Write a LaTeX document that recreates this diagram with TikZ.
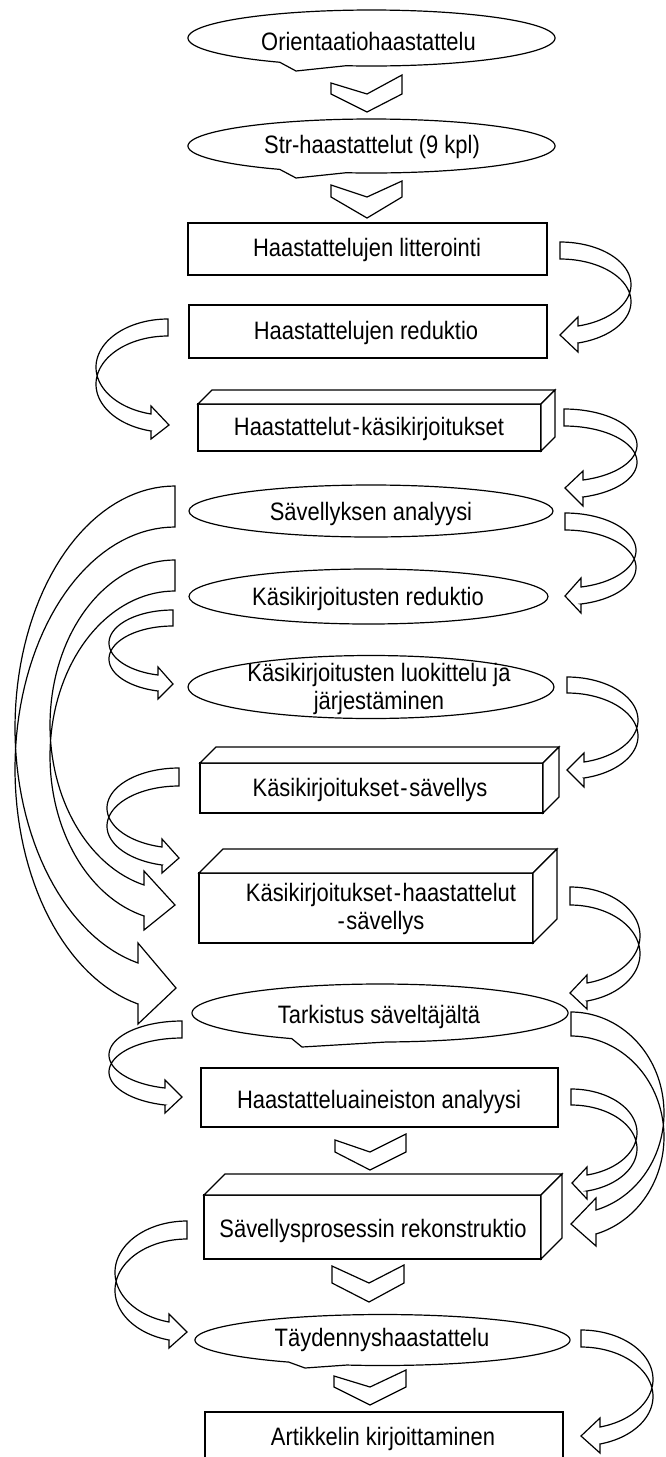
\documentclass[tikz,border=0pt]{standalone}
\usepackage{fontspec}
\setmainfont{Liberation Sans}
\newfontfamily\lblfont[FakeStretch=0.87]{Liberation Sans}
% curved block arrow: xt yt t xe xb yb e xtip ytip
\newcommand\curvarr[9]{%
  \pgfmathsetmacro\CAa{abs(#4-#1)}%
  \pgfmathsetmacro\CAs{sqrt(1-((#5-#1)/\CAa)^2)}%
  \pgfmathsetmacro\CAb{(#6-#2)/(1+\CAs)}%
  \pgfmathsetmacro\CAcy{#2+\CAb}%
  \pgfmathsetmacro\CAend{ifthenelse(#4>#1, acos((#5-#1)/\CAa), acos((#5-#1)/\CAa)-360)}%
  \draw[arr] plot[domain=-90:\CAend, samples=70] ({#1+\CAa*cos(\x)},{\CAcy+\CAb*sin(\x)})
     -- (#5,{#6-#7}) -- (#8,#9) -- (#5,{#6+#3+#7}) -- (#5,{#6+#3})
     -- plot[domain=\CAend:-90, samples=70] ({#1+\CAa*cos(\x)},{\CAcy+#3+\CAb*sin(\x)}) -- cycle;}
% chevron: xl xm xr ytl ytr yn ytip
\newcommand\chev[7]{\draw[shp] (#1,#4) -- (#2,#6) -- (#3,#5) -- (#3,#6) -- (#2,#7) -- (#1,#6) -- cycle;}
% cube: x1 y1 x2 y2 d
\newcommand\cubebox[5]{%
  \draw[shp] (#1,#2) rectangle (#3,#4);
  \draw[shp] (#1,#2) -- ({#1+#5},{#2-#5}) -- ({#3+#5},{#2-#5}) -- (#3,#2) -- cycle;
  \draw[shp] (#3,#2) -- ({#3+#5},{#2-#5}) -- ({#3+#5},{#4-#5}) -- (#3,#4) -- cycle;}
% wedge ellipse callout: cx cy rx ry aR aL tipx tipy
\newcommand\wcallout[8]{%
  \draw[shp] plot[domain=#5:#6-360, samples=140] ({#1+#3*cos(\x)},{#2+#4*sin(\x)}) -- (#7,#8) -- cycle;}
\begin{document}
\begin{tikzpicture}[x=0.5pt,y=-0.5pt,
  shp/.style={draw=black, fill=white, line width=0.6pt, line join=miter},
  arr/.style={draw=black, line width=0.6pt, line join=miter},
  lbl/.style={font=\lblfont\fontsize{12.6}{13.8}\selectfont, inner sep=0pt, anchor=base},
  lbltwo/.style={font=\lblfont\fontsize{12.6}{13.8}\selectfont, inner sep=0pt, align=center}]
\useasboundingbox (0,0) rectangle (665,1457);

% callouts
\wcallout{371.5}{38}{183.5}{28}{98}{120}{296}{71}
\wcallout{371.5}{146}{183.5}{27}{98}{120}{296}{178}
\wcallout{380}{1013}{188}{29}{88}{118}{302}{1047}
\wcallout{382.5}{1340}{187.5}{25.5}{101}{120}{305}{1368}

% chevrons
\chev{331}{367}{402}{83}{75}{94}{112}
\chev{331}{367}{402}{185}{181}{197}{218}
\chev{335}{370}{406}{1140}{1134}{1152}{1170}
\chev{332}{369}{404}{1266}{1265}{1283}{1302}
\chev{334}{370}{406}{1376}{1370}{1387}{1405}

% rectangles
\draw[shp] (188,223) rectangle (547,275);
\draw[shp] (189,305) rectangle (547,358);
\draw[shp] (201,1068) rectangle (558,1127);
\draw[shp] (205,1412) rectangle (563,1462);

% cubes
\cubebox{198}{404}{541}{451}{14}
\cubebox{200}{763}{543}{813}{16}
\cubebox{199}{873}{533}{943}{24}
\cubebox{204}{1195}{541}{1259}{21}

% ellipses
\draw[shp] (371,511) ellipse [x radius=182, y radius=26];
\draw[shp] (368.5,596.5) ellipse [x radius=179.5, y radius=27.5];
\draw[shp] (371,687) ellipse [x radius=183, y radius=31.5];

% right curved arrows
\curvarr{560}{242}{17}{631}{578}{326}{9}{560}{335}
\curvarr{564}{409}{17}{637}{583}{480}{9}{565}{488}
\curvarr{565}{513}{17}{636}{581}{587}{9}{565}{596}
\curvarr{567}{677}{16}{638}{584}{762}{9}{567}{770}
\curvarr{570}{887}{18}{640}{587}{983}{8}{570}{993}
\curvarr{571}{1012}{24}{664}{596}{1210}{12}{571}{1224}
\curvarr{571}{1089}{16}{637}{587}{1175}{8}{572}{1183}
\curvarr{581}{1330}{17}{653}{600}{1427}{9}{581}{1436}
% left curved arrows
\curvarr{168}{319}{17}{96}{151}{414}{8}{169}{425}
\curvarr{173}{610}{16}{109}{158}{675}{8}{173}{684}
\curvarr{179}{768}{18}{107}{162}{847}{8}{179}{858}
\curvarr{175}{486}{41}{15}{138}{963}{20}{176}{988}
\curvarr{175}{560}{31}{50}{144}{885}{14}{175}{905}
\curvarr{182}{1021}{17}{109}{165}{1088}{8}{182}{1097}
\curvarr{187}{1221}{18}{115}{169}{1322}{8}{187}{1332}

% labels
\node[lbl] (orient) at (368.5,50) {Orientaatiohaastattelu};
\node[lbl] (strh) at (372,153) {Str-haastattelut (9 kpl)};
\node[lbl] (litt) at (367,256) {Haastattelujen litterointi};
\node[lbl] (hred) at (366,339) {Haastattelujen reduktio};
\node[lbl] (hkas) at (369,435) {Haastattelut\kern0.8pt-\kern0.8pt käsikirjoitukset};
\node[lbl] (sana) at (371,520) {Sävellyksen analyysi};
\node[lbl] (kred) at (368,605) {Käsikirjoitusten reduktio};
\node[lbltwo] (kluo) at (379,689) {Käsikirjoitusten luokittelu ja\\järjestäminen};
\node[lbl] (ksav) at (370,796) {Käsikirjoitukset\kern0.8pt-\kern0.8pt sävellys};
\node[lbltwo] (khs) at (381,909) {Käsikirjoitukset\kern0.8pt-\kern0.8pt haastattelut\\-\kern0.8pt sävellys};
\node[lbl] (tark) at (379,1023) {Tarkistus säveltäjältä};
\node[lbl] (hana) at (379,1108) {Haastatteluaineiston analyysi};
\node[lbl] (srek) at (373,1237) {Sävellysprosessin rekonstruktio};
\node[lbl] (tayd) at (382,1346) {Täydennyshaastattelu};
\node[lbl] (art) at (383,1445) {Artikkelin kirjoittaminen};
\end{tikzpicture}
\end{document}
